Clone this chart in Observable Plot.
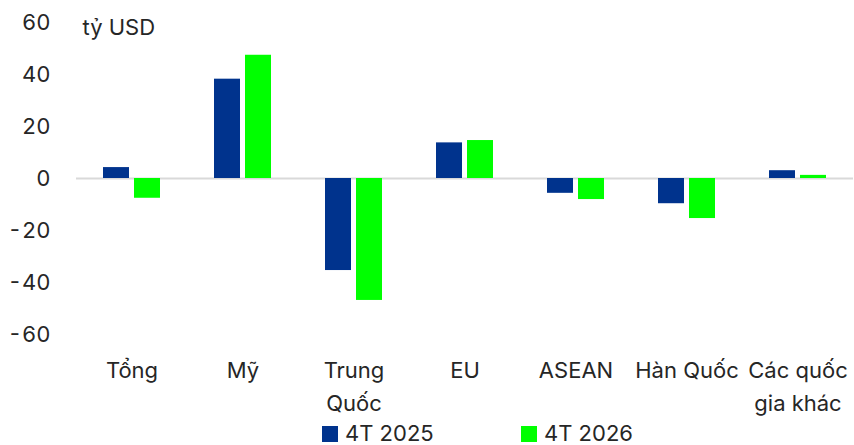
<!DOCTYPE html>
<html>
<head>
<meta charset="utf-8">
<script src="https://cdn.jsdelivr.net/npm/d3@7"></script>
<script src="https://cdn.jsdelivr.net/npm/@observablehq/plot@0.6"></script>
<style>
  body { margin: 0; background: #fff; font-family: Inter, "Noto Sans", sans-serif; color: #262626; }
  #wrap { width: 854px; position: relative; }
  #legend { position: relative; height: 20px; font-size: 22px; line-height: 1; top: -3px; }
  .item { position: absolute; top: 0; white-space: nowrap; }
  .sw { position: absolute; top: 4px; left: 0; width: 16px; height: 16px; }
  .lt { position: absolute; left: 23px; top: 0; }
</style>
</head>
<body>
<div id="wrap"></div>
<script>
const categories = ["Tổng", "Mỹ", "Trung Quốc", "EU", "ASEAN", "Hàn Quốc", "Các quốc gia khác"];
const categoryLabels = ["Tổng", "Mỹ", "Trung\nQuốc", "EU", "ASEAN", "Hàn Quốc", "Các quốc\ngia khác"];
const series = ["4T 2025", "4T 2026"];
const values2025 = [4.2, 38.2, -35.4, 13.7, -5.7, -9.7, 3.0];
const values2026 = [-7.6, 47.4, -46.9, 14.6, -8.1, -15.4, 1.2];
const colors = ["#00338D", "#00FF00"];
const yTicks = [-60, -40, -20, 0, 20, 40, 60];
const unitLabel = "tỷ USD";

const data = [];
categories.forEach((c, i) => {
  data.push({category: c, series: series[0], value: values2025[i]});
  data.push({category: c, series: series[1], value: values2026[i]});
});

const chart = Plot.plot({
  width: 854,
  height: 425,
  marginTop: 22,
  marginBottom: 91,
  marginLeft: 74,
  marginRight: 0,
  style: {fontFamily: "Inter, 'Noto Sans', sans-serif", color: "#262626", background: "#fff"},
  fx: {domain: categories, padding: 0},
  x: {domain: series, paddingInner: 0.16, paddingOuter: 0.82, axis: null},
  y: {domain: [-60, 60]},
  color: {domain: series, range: colors},
  marks: [
    Plot.ruleY([0], {stroke: "#d9d9d9", strokeWidth: 2}),
    Plot.barY(data, {fx: "category", x: "series", y: "value", fill: "series"}),
    Plot.axisY({ticks: yTicks, tickSize: 0, tickPadding: 26, fontSize: 22, label: null, fill: "#262626",
      tickFormat: d => String(d)}),
    Plot.axisFx({anchor: "bottom", tickSize: 0, tickPadding: 20, fontSize: 22, lineHeight: 1.5, label: null,
      tickFormat: d => categoryLabels[categories.indexOf(d)], fill: "#262626"}),
    Plot.text([unitLabel], {facet: "super", frameAnchor: "top-left", textAnchor: "start", dx: 6, dy: -3, fontSize: 22, fill: "#262626"})
  ]
});
document.getElementById("wrap").appendChild(chart);

const legend = document.createElement("div");
legend.id = "legend";
const lefts = [322, 521];
series.forEach((s, i) => {
  const it = document.createElement("div");
  it.className = "item";
  it.style.left = lefts[i] + "px";
  const sw = document.createElement("span");
  sw.className = "sw";
  sw.style.background = colors[i];
  const t = document.createElement("span");
  t.className = "lt";
  t.textContent = s;
  it.appendChild(sw);
  it.appendChild(t);
  legend.appendChild(it);
});
document.getElementById("wrap").appendChild(legend);
</script>
</body>
</html>
